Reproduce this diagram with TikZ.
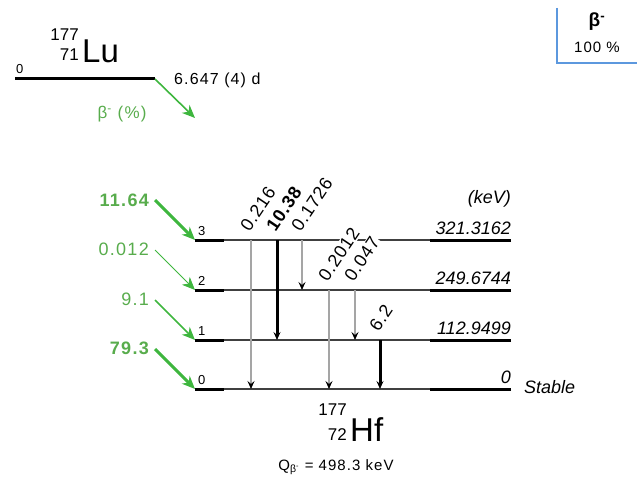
\documentclass[tikz,border=0pt]{standalone}
\usepackage{fontspec}
\setmainfont{Liberation Sans}
\newfontfamily\widefont[LetterSpace=7]{Liberation Sans}
\newfontfamily\gammafont[LetterSpace=4]{Liberation Sans}
\usetikzlibrary{arrows.meta}
\definecolor{feedgreen}{RGB}{62,182,62}
\definecolor{textgreen}{RGB}{88,172,76}
\definecolor{gammagray}{RGB}{165,165,165}
\definecolor{boxblue}{RGB}{92,152,222}
\tikzset{
  levelline/.style={line width=1.6pt, draw=black!75},
  levelend/.style={line width=3pt, draw=black},
  gammaline/.style={-{Stealth[length=8pt,width=7pt,inset=3pt,color=black]}, line width=1.8pt, draw=gammagray},
  gammastrong/.style={gammaline, line width=3pt, draw=black},
  gammalabel/.style={rotate=56, anchor=base west, inner sep=1pt, fill=white, font=\fontsize{18}{18}\gammafont},
  feedline/.style={-{Stealth[length=13pt,width=11pt,inset=4pt]}, draw=feedgreen},
  feedlabel/.style={anchor=east, inner sep=0pt, text=textgreen, font=\fontsize{18}{18}\widefont},
  energylabel/.style={anchor=base east, inner sep=0pt, font=\fontsize{18}{18}\selectfont\itshape},
  levelnum/.style={anchor=base west, inner sep=0pt, font=\fontsize{13}{13}\selectfont},
  plain/.style={inner sep=0pt, font=\fontsize{16}{16}\widefont},
  element/.style={inner sep=0pt, font=\fontsize{33}{33}\selectfont},
  massnum/.style={inner sep=0pt, font=\fontsize{17}{17}\selectfont}
}
\begin{document}
\begin{tikzpicture}[x=1pt,y=1pt]
\useasboundingbox (0,0) rectangle (637,-484);
% parent
\coordinate (luw) at (15,-79);
\coordinate (lue) at (155,-79);
\coordinate (lufeed) at (195,-118);
\draw[levelend] (luw) -- (lue);
\node[levelnum] (luzero) at (16,-74) {0};
\node[element, anchor=base west] (lu) at (82,-63) {Lu};
\node[massnum, anchor=north east] (lua) at (79,-29) {177};
\node[massnum, anchor=base east] (luz) at (79,-61) {71};
\node[plain, anchor=west] (luhalf) at (174,-80) {6.647 (4) d};
\node[plain, text=textgreen, font=\fontsize{17}{17}\widefont] (lubeta) at (122,-114) {β\textsuperscript{-} (\%)};
\draw[feedline, line width=1.6pt] (lue) -- (lufeed);
% decay mode
\coordinate (bxa) at (557,-8);
\coordinate (bxb) at (557,-63);
\coordinate (bxc) at (637,-63);
\draw[boxblue, line width=2pt] (bxa) -- (bxb) -- (bxc);
\node[inner sep=0pt, font=\fontsize{19}{19}\selectfont\bfseries] (mode) at (597,-22) {β\textsuperscript{-}};
\node[inner sep=0pt, font=\fontsize{15}{15}\widefont] (modepct) at (597,-47) {100 \%};
% daughter levels
\coordinate (l3w) at (195,-240); \coordinate (l3e) at (511,-240);
\coordinate (l2w) at (195,-290); \coordinate (l2e) at (511,-290);
\coordinate (l1w) at (195,-340); \coordinate (l1e) at (511,-340);
\coordinate (l0w) at (195,-389); \coordinate (l0e) at (511,-389);
\foreach \lv in {3,2,1,0} {
  \draw[levelline] (l\lv w) -- (l\lv e);
  \draw[levelend] (l\lv w) -- ++(29,0);
  \draw[levelend] (l\lv e) -- ++(-81,0);
}
\node[levelnum] (n3) at (198,-235) {3};
\node[levelnum] (n2) at (198,-285) {2};
\node[levelnum] (n1) at (198,-335) {1};
\node[levelnum] (n0) at (198,-384) {0};
\node[energylabel] (e3) at (511,-234) {321.3162};
\node[energylabel] (e2) at (511,-284) {249.6744};
\node[energylabel] (e1) at (511,-334) {112.9499};
\node[energylabel] (e0) at (511,-383) {0};
\node[energylabel] (kev) at (511,-203) {(keV)};
\node[energylabel, anchor=base west] (stable) at (524,-393) {Stable};
% beta feeding
\coordinate (f3) at (155,-200);
\coordinate (f2) at (155,-250);
\coordinate (f1) at (155,-300);
\coordinate (f0) at (155,-349);
\draw[feedline, line width=3pt] (f3) -- (l3w);
\draw[feedline, line width=0.8pt] (f2) -- (l2w);
\draw[feedline, line width=1.6pt] (f1) -- (l1w);
\draw[feedline, line width=3pt] (f0) -- (l0w);
\node[feedlabel, font=\fontsize{18}{18}\widefont\bfseries] (p3) at (149,-200) {11.64};
\node[feedlabel] (p2) at (149,-249) {0.012};
\node[feedlabel] (p1) at (149,-299) {9.1};
\node[feedlabel, font=\fontsize{18}{18}\widefont\bfseries] (p0) at (149,-348) {79.3};
% gamma transitions
\coordinate (g216) at (251,0);
\coordinate (g1038) at (277,0);
\coordinate (g1726) at (302,0);
\coordinate (g2012) at (329,0);
\coordinate (g047) at (355,0);
\coordinate (g62) at (380,0);
\draw[gammaline] (g216 |- l3w) -- (g216 |- l0w);
\draw[gammastrong] (g1038 |- l3w) -- (g1038 |- l1w);
\draw[gammaline] (g1726 |- l3w) -- (g1726 |- l2w);
\draw[gammaline] (g2012 |- l2w) -- (g2012 |- l0w);
\draw[gammaline] (g047 |- l2w) -- (g047 |- l1w);
\draw[gammastrong] (g62 |- l1w) -- (g62 |- l0w);
\node[gammalabel] (t216) at (249,-233) {0.216};
\node[gammalabel, font=\fontsize{18}{18}\gammafont\bfseries] (t1038) at (275,-233) {10.38};
\node[gammalabel] (t1726) at (300,-233) {0.1726};
\node[gammalabel] (t2012) at (327,-283) {0.2012};
\node[gammalabel] (t047) at (353,-283) {0.047};
\node[gammalabel] (t62) at (378,-333) {6.2};
% daughter
\node[element, anchor=base west] (hf) at (350,-441) {Hf};
\node[massnum, anchor=north east] (hfa) at (347,-404) {177};
\node[massnum, anchor=base east] (hfz) at (347,-440) {72};
\node[plain, font=\fontsize{15}{15}\widefont] (qval) at (336,-467) {Q\textsubscript{β\textsuperscript{-}} = 498.3 keV};
\end{tikzpicture}
\end{document}
